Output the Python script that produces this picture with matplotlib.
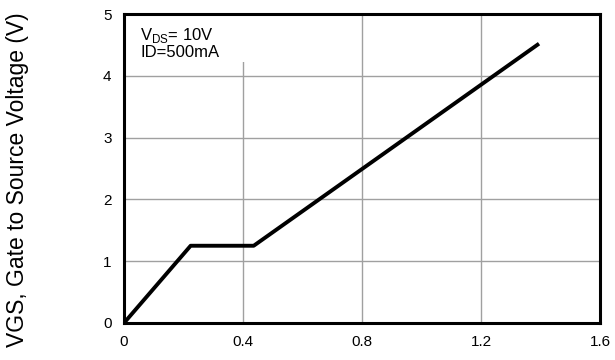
import matplotlib
matplotlib.use("Agg")
import matplotlib.pyplot as plt
from matplotlib.patches import Rectangle

plt.rcParams["font.family"] = ["Liberation Sans", "DejaVu Sans"]

# Gate charge curve (x: total gate charge, y: VGS)
qg = [0.0, 0.224, 0.436, 1.395]
vgs = [0.0, 1.25, 1.25, 4.52]

x_ticks = [0, 0.4, 0.8, 1.2, 1.6]
x_tick_labels = ["0", "0.4", "0.8", "1.2", "1.6"]
y_ticks = [0, 1, 2, 3, 4, 5]

fig = plt.figure(figsize=(6.15, 3.6), dpi=100)
ax = fig.add_axes([124 / 615, 1 - 323 / 360, 476 / 615, 309 / 360])

ax.plot(qg, vgs, color="black", linewidth=2.8, solid_capstyle="butt", zorder=3)

ax.set_xlim(0, 1.6)
ax.set_ylim(0, 5)
ax.set_xticks(x_ticks)
ax.set_xticklabels(x_tick_labels)
ax.set_yticks(y_ticks)
ax.tick_params(axis="both", length=0, labelsize=11)
ax.tick_params(axis="x", pad=9)
ax.tick_params(axis="y", pad=9)

ax.grid(True, color="#a0a0a0", linewidth=1)
ax.set_axisbelow(True)
for sp in ax.spines.values():
    sp.set_linewidth(2.2)
    sp.set_color("black")

# white box behind the condition text hides the grid there
ax.add_patch(Rectangle((0.004, 4.22 / 5), 0.27, 1 - 4.22 / 5 - 0.004,
                       transform=ax.transAxes, facecolor="white",
                       edgecolor="none", zorder=1.5))
ax.text(0.034, 0.96, r"V$_{\mathregular{DS}}$= 10V" + "\nID=500mA",
        transform=ax.transAxes, ha="left", va="top", fontsize=12,
        linespacing=0.95, zorder=2)

fig.text(18 / 615, 0.5, "VGS, Gate to Source Voltage (V)", rotation=90,
         ha="center", va="center", fontsize=16.5)

fig.savefig("out.png", dpi=100)
